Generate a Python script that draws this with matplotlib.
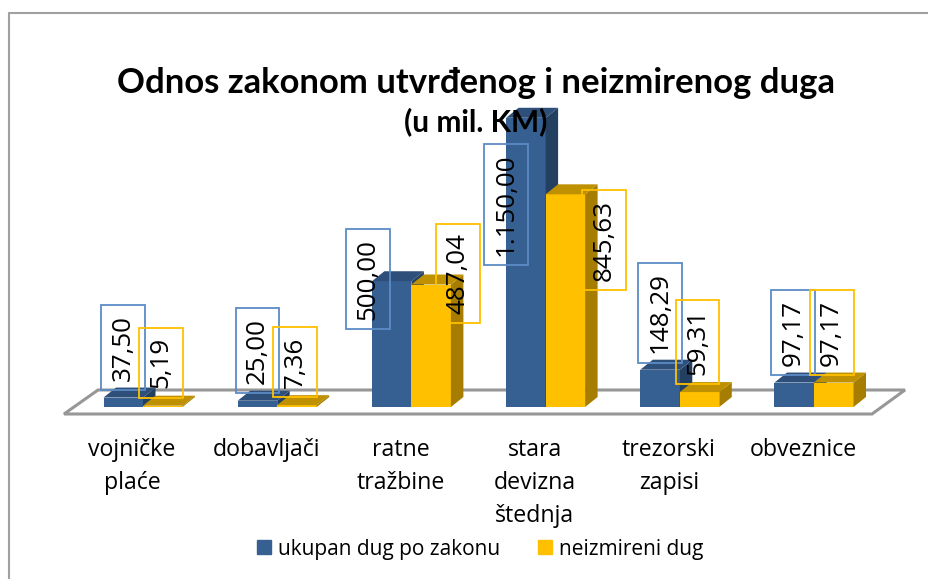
import matplotlib
matplotlib.use("Agg")
import matplotlib.pyplot as plt
from matplotlib.lines import Line2D
from matplotlib.patches import Patch

categories = ["vojničke\nplaće", "dobavljači", "ratne\ntražbine",
              "stara\ndevizna\nštednja", "trezorski\nzapisi", "obveznice"]
ukupan = [37.50, 25.00, 500.00, 1150.00, 148.29, 97.17]
neizmireni = [5.19, 7.36, 487.04, 845.63, 59.31, 97.17]

BLUE = "#376092"
BLUE_SIDE = "#244061"
BLUE_TOP = "#2D4F7A"
YELLOW = "#FFC000"
YELLOW_SIDE = "#A67D00"
YELLOW_TOP = "#BF9000"
BLUE_LINE = "#5B8BC6"
GRAY = "#979797"

# pixels per category and per value unit
PX_X = 134.2
PX_Y = 0.2515
BAR_W = 39.5 / PX_X
DEPTH_X = 12.5 / PX_X
DEPTH_Y = 10 / PX_Y
FONT = "Open Sans"
TITLE_FONT = "Lato"

# label box centre relative to the bar top, in pixels
blue_shift = [(0, 50), (0, 50), (-24, 2), (-20, -87), (0, 57), (-1, 50)]
yellow_shift = [(-2, 43), (-2, 43), (27, 11), (39, -46), (-2, 50), (-2, 50)]


def label_text(v):
    return f"{v:,.2f}".replace(",", "#").replace(".", ",").replace("#", ".")


def draw_bar(ax, x, v, front, side, top):
    ax.bar(x, v, BAR_W, color=front, linewidth=0, clip_on=False, zorder=3)
    left = x - BAR_W / 2
    right = x + BAR_W / 2
    ax.fill([right, right + DEPTH_X, right + DEPTH_X, right],
            [0, DEPTH_Y, v + DEPTH_Y, v], color=side, lw=0, clip_on=False, zorder=3)
    ax.fill([left, right, right + DEPTH_X, left + DEPTH_X],
            [v, v, v + DEPTH_Y, v + DEPTH_Y], color=top, lw=0, clip_on=False, zorder=3)


def draw_label(ax, x, v, shift, edge):
    ax.annotate(label_text(v), (x, v), xytext=shift, textcoords="offset pixels",
                rotation=90, ha="center", va="center", fontsize=18.7, family=FONT,
                color="black", zorder=5,
                bbox=dict(boxstyle="square,pad=0.36", fc="none", ec=edge, lw=1.3))


fig = plt.figure(figsize=(9.29, 5.79), dpi=100)
# only the top and left edges of the frame are in the picture
fig.add_artist(Line2D([9.5 / 929, 9.5 / 929, 1], [0, 1 - 12.5 / 579, 1 - 12.5 / 579],
                      color="#A0A0A0", lw=1.5, transform=fig.transFigure))

ax = fig.add_axes([75.9 / 929, 172 / 579, 805.2 / 929, 300 / 579])
ax.set_xlim(-0.5, 5.5)
ax.set_ylim(0, 300 / PX_Y)
ax.set_yticks([])
for s in ax.spines.values():
    s.set_visible(False)
ax.patch.set_alpha(0)

# floor of the 3d chart
fx = [(64 - 143) / PX_X, (872 - 143) / PX_X, (905 - 143) / PX_X, (98 - 143) / PX_X]
fy = [-7 / PX_Y, -7 / PX_Y, 17 / PX_Y, 17 / PX_Y]
ax.fill(fx, fy, fc="white", ec=GRAY, lw=2.2, clip_on=False, zorder=1)

for i in range(len(categories)):
    draw_bar(ax, i - BAR_W / 2, ukupan[i], BLUE, BLUE_SIDE, BLUE_TOP)
    draw_bar(ax, i + BAR_W / 2, neizmireni[i], YELLOW, YELLOW_SIDE, YELLOW_TOP)
    draw_label(ax, i - BAR_W / 2, ukupan[i], blue_shift[i], BLUE_LINE)
    draw_label(ax, i + BAR_W / 2, neizmireni[i], yellow_shift[i], YELLOW)

ax.set_xticks([i - 11 / PX_X for i in range(len(categories))])
ax.set_xticklabels(categories, fontsize=16.7, family=FONT, linespacing=1.49)
ax.tick_params(axis="x", length=0, pad=22.5)

fig.text(476.5 / 929, 1 - 83 / 579, "Odnos zakonom utvrđenog i neizmirenog duga",
         ha="center", va="center", fontsize=24.9, fontweight="bold", family=TITLE_FONT, zorder=6)
fig.text(476 / 929, 1 - 122 / 579, "(u mil. KM)", ha="center", va="center",
         fontsize=21.5, fontweight="bold", family=TITLE_FONT, zorder=6)

handles = [Patch(color=BLUE, label="ukupan dug po zakonu"),
           Patch(color=YELLOW, label="neizmireni dug")]
fig.legend(handles=handles, loc="center", bbox_to_anchor=(480 / 929, 1 - 549 / 579),
           ncol=2, frameon=False, prop={"family": FONT, "size": 15}, handlelength=0.67,
           handleheight=0.65, handletextpad=0.34, columnspacing=1.8,
           labelspacing=0, borderpad=0)

fig.savefig("out.png", dpi=100)
